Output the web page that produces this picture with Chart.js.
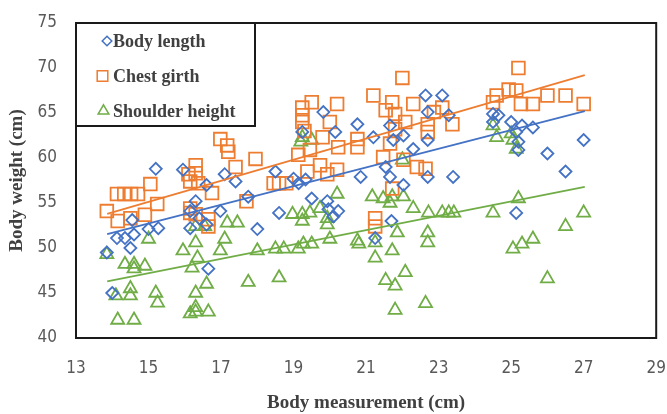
<!DOCTYPE html>
<html>
<head>
<meta charset="utf-8">
<script src="https://cdn.jsdelivr.net/npm/chart.js@4/dist/chart.umd.min.js"></script>
<style>
html,body{margin:0;padding:0;background:#fff;}
#wrap{width:667px;height:414px;}
</style>
</head>
<body>
<div id="wrap"><canvas id="c" width="667" height="414"></canvas></div>
<script>
// ---- data ----
const seriesNames = ["Body length", "Chest girth", "Shoulder height"];
const xTicks = [13, 15, 17, 19, 21, 23, 25, 27, 29];
const yTicks = [40, 45, 50, 55, 60, 65, 70, 75];

const bodyLengthX = [13.85,14.0,14.13,14.35,14.55,14.6,14.5,15.0,15.27,15.2,15.95,16.6,17.1,17.4,17.75,16.98,16.3,16.15,16.15,16.4,16.6,18.0,16.65,19.82,20.15,19.24,18.5,19.0,19.33,19.14,19.5,18.6,19.93,19.96,20.1,20.76,21.2,21.66,21.75,22.03,22.3,21.54,21.66,22.03,20.85,20.23,21.7,21.25,22.64,23.1,22.7,23.28,22.7,22.7,23.4,24.5,24.5,24.65,25.0,25.3,25.6,25.14,25.2,25.2,26.0,26.5,27.0,25.14];
const bodyLengthY = [49.5,45.0,51.1,51.1,53.1,51.5,50.0,52.1,52.2,58.8,58.7,57.0,58.2,57.4,55.7,54.1,55.2,54.1,52.2,53.3,52.6,52.1,47.7,65.1,62.9,62.9,58.5,57.7,57.6,57.2,55.5,53.9,55.2,54.3,53.5,63.75,62.3,63.6,62.0,62.5,61.0,59.0,57.9,57.0,57.9,54.1,53.0,51.1,66.95,66.95,65.1,64.75,62.0,57.9,57.9,64.9,64.0,64.75,64.0,63.6,63.4,62.9,61.8,60.9,60.5,58.5,62.0,53.9];

const chestGirthX = [15.05,16.1,14.13,14.33,14.52,14.71,13.85,14.15,15.24,14.9,14.5,16.98,17.17,17.2,17.95,17.4,16.3,16.3,16.15,16.37,16.75,16.15,16.15,16.3,16.65,16.65,17.7,19.24,19.5,19.24,19.24,19.3,20.2,20.0,19.8,19.45,19.73,19.13,19.38,19.93,20.2,18.45,18.6,18.8,22.0,21.2,21.72,21.54,22.3,21.8,22.08,21.8,20.76,20.76,20.23,21.66,21.47,22.03,22.4,21.72,21.25,21.25,22.7,22.7,22.87,23.1,23.38,22.64,24.5,25.2,24.93,25.14,24.6,25.27,25.6,26.0,26.5,27.0];
const chestGirthY = [57.1,58.2,56.0,56.0,56.0,56.0,54.1,53.0,54.9,53.7,53.3,62.1,61.4,60.7,59.9,59.0,59.2,58.3,57.4,57.2,56.1,54.4,53.9,53.75,53.2,52.4,55.2,65.6,66.2,64.75,64.0,63.0,66.0,64.0,62.3,60.9,59.2,60.35,58.5,58.2,58.7,57.2,57.2,57.2,68.9,66.95,66.2,65.3,66.0,64.9,64.0,63.2,62.1,61.2,61.2,61.6,60.1,59.8,59.0,56.6,53.3,52.4,63.75,62.9,65.1,65.6,63.75,58.8,66.2,70.0,67.6,67.5,66.95,66.0,66.0,66.95,66.95,66.0];

const shoulderHeightX = [13.85,14.35,14.6,14.9,15.0,14.6,14.5,14.5,14.1,15.2,15.25,14.15,14.6,17.17,17.45,17.1,16.98,16.3,16.55,16.3,15.95,16.35,16.2,16.6,16.3,16.3,16.3,16.65,16.15,17.75,18.0,19.24,19.5,19.2,20.2,18.97,19.24,19.45,19.73,19.93,19.93,19.24,18.5,18.73,19.13,19.27,19.5,20.0,18.6,22.0,21.17,21.47,21.72,21.66,22.03,22.3,20.76,20.8,21.25,21.86,21.72,21.25,21.54,21.8,22.08,21.8,22.72,23.1,23.28,23.42,24.5,22.7,22.7,22.64,24.5,24.6,25.0,25.05,25.14,25.2,27.0,26.5,25.6,25.3,25.05,26.0];
const shoulderHeightY = [49.3,48.2,48.2,48.0,51.0,47.7,45.5,44.7,44.7,45.0,43.9,42.0,42.0,52.8,52.8,51.0,49.7,52.4,52.4,50.6,49.7,48.9,47.8,46.0,45.0,43.4,42.9,42.9,42.7,46.2,49.7,62.3,62.0,61.8,56.0,53.75,53.75,53.9,54.4,53.3,52.6,53.0,49.9,49.9,49.9,50.45,50.45,51.0,46.7,59.8,55.7,55.5,55.7,55.0,55.7,54.4,50.8,50.45,50.6,51.7,49.7,48.9,46.4,45.8,47.3,43.1,53.9,53.9,53.9,53.9,53.9,51.7,50.6,43.85,63.6,62.3,62.7,62.0,61.0,55.5,53.9,52.4,51.0,50.45,49.9,46.6];

// linear trendlines: [x start, x end] and [y start, y end]
const trendX = [13.86, 27.03];
const bodyLengthTrendY = [51.55, 65.2];
const chestGirthTrendY = [53.8, 69.2];
const shoulderHeightTrendY = [46.3, 56.8];

// ---- styling ----
const COLORS = ['#4472C4', '#ED7D31', '#70AD47'];
const STYLES = ['rectRot', 'rect', 'triangle'];
const RADII = [6, 9, 7.5];
const LEG_RADII = [4.8, 7.5, 6.2];

function pts(xs, ys) { return xs.map((x, i) => ({x: x, y: ys[i]})); }

const scatterSets = [
  [bodyLengthX, bodyLengthY],
  [chestGirthX, chestGirthY],
  [shoulderHeightX, shoulderHeightY]
].map((s, i) => ({
  type: 'scatter',
  label: seriesNames[i],
  data: pts(s[0], s[1]),
  pointStyle: STYLES[i],
  pointRadius: RADII[i],
  pointHoverRadius: RADII[i],
  pointBorderWidth: 1.8,
  borderColor: COLORS[i],
  backgroundColor: 'rgba(0,0,0,0)',
  pointBackgroundColor: 'rgba(0,0,0,0)',
  order: 2
}));

const trendSets = [bodyLengthTrendY, chestGirthTrendY, shoulderHeightTrendY].map((ty, i) => ({
  type: 'line',
  label: seriesNames[i] + ' trend',
  data: pts(trendX, ty),
  borderColor: COLORS[i],
  borderWidth: 1.8,
  pointRadius: 0,
  fill: false,
  order: 1
}));

const plotBorder = {
  id: 'plotBorder',
  afterDraw(chart) {
    const {ctx, chartArea: a} = chart;
    ctx.save();
    ctx.strokeStyle = '#1a1a1a';
    ctx.lineWidth = 2;
    ctx.strokeRect(a.left, a.top, a.right - a.left, a.bottom - a.top);
    ctx.restore();
  }
};

function drawMarker(ctx, style, r, x, y) {
  ctx.beginPath();
  if (style === 'rectRot') {
    ctx.moveTo(x - r, y); ctx.lineTo(x, y - r); ctx.lineTo(x + r, y); ctx.lineTo(x, y + r);
  } else if (style === 'rect') {
    const s = r * Math.SQRT1_2;
    ctx.rect(x - s, y - s, 2 * s, 2 * s);
  } else {
    const w = r * Math.sin(Math.PI / 3);
    ctx.moveTo(x, y - r); ctx.lineTo(x + w, y + r / 2); ctx.lineTo(x - w, y + r / 2);
  }
  ctx.closePath();
  ctx.stroke();
}

const insideLegend = {
  id: 'insideLegend',
  afterDraw(chart) {
    const {ctx, chartArea: a} = chart;
    const box = {x: a.left, y: a.top, w: 179, h: 103};
    ctx.save();
    ctx.fillStyle = '#fff';
    ctx.fillRect(box.x, box.y, box.w, box.h);
    ctx.strokeStyle = '#1a1a1a';
    ctx.lineWidth = 2;
    ctx.strokeRect(box.x, box.y, box.w, box.h);
    const rows = [41, 76, 111];
    const mx = [107, 102.5, 103.5];
    ctx.font = 'bold 18px "Liberation Serif", "Times New Roman", serif';
    ctx.textBaseline = 'middle';
    ctx.textAlign = 'left';
    scatterSets.forEach((ds, i) => {
      ctx.strokeStyle = COLORS[i];
      ctx.lineWidth = 1.5;
      drawMarker(ctx, STYLES[i], LEG_RADII[i], mx[i], rows[i]);
      ctx.fillStyle = '#404040';
      ctx.fillText(ds.label, 113, rows[i] + 1);
    });
    ctx.restore();
  }
};

const tickFont = {family: '"DejaVu Sans Condensed", "Liberation Sans Narrow", "DejaVu Sans", sans-serif', size: 17};
const titleFont = {family: '"Liberation Serif", "Times New Roman", serif', size: 19, weight: 'bold'};

new Chart(document.getElementById('c'), {
  data: {datasets: [...trendSets, ...scatterSets]},
  options: {
    responsive: false,
    animation: false,
    layout: {padding: {top: 23, right: 10, left: 0, bottom: 0}},
    plugins: {legend: {display: false}, tooltip: {enabled: false}},
    scales: {
      x: {
        type: 'linear', min: xTicks[0], max: xTicks[xTicks.length - 1],
        afterBuildTicks(s) { s.ticks = xTicks.map(v => ({value: v})); },
        ticks: {color: '#595959', font: tickFont, padding: 20, maxRotation: 0},
        grid: {display: false, drawTicks: false},
        border: {display: false},
        title: {display: true, text: 'Body measurement (cm)', color: '#404040', font: titleFont, padding: {top: 0, bottom: 0}},
        afterFit(s) { s.height = 76; s.paddingLeft = 0; s.paddingRight = 0; }
      },
      y: {
        type: 'linear', min: yTicks[0], max: yTicks[yTicks.length - 1],
        afterBuildTicks(s) { s.ticks = yTicks.map(v => ({value: v})); },
        ticks: {color: '#595959', font: tickFont, padding: 19},
        grid: {display: false, drawTicks: false},
        border: {display: false},
        title: {display: true, text: 'Body weight (cm)', color: '#404040', font: titleFont, padding: {top: 6, bottom: 0}},
        afterFit(s) { s.width = 76; s.paddingTop = 0; s.paddingBottom = 0; }
      }
    }
  },
  plugins: [plotBorder, insideLegend]
});
</script>
</body>
</html>
